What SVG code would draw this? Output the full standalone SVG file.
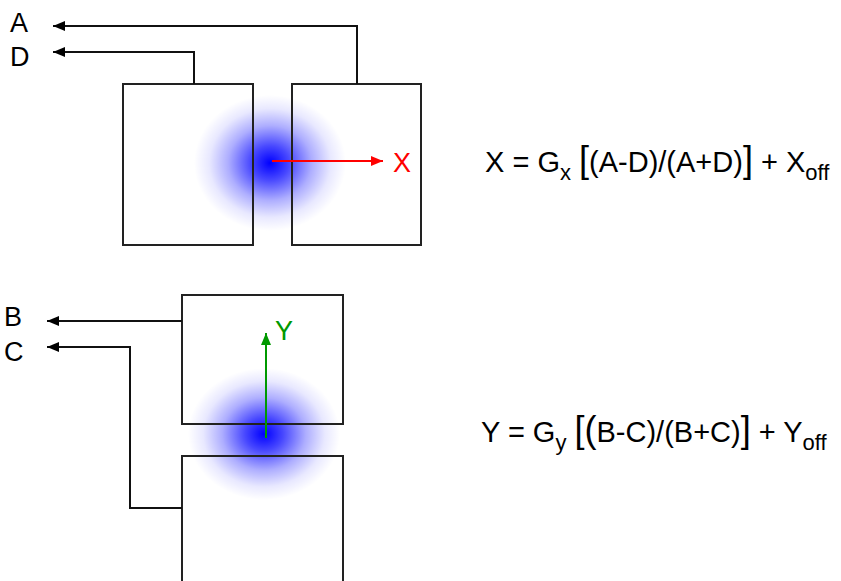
<svg xmlns="http://www.w3.org/2000/svg" width="841" height="581" viewBox="0 0 841 581">
<style>
  .box{fill:none;stroke:#222;stroke-width:2}
  .wire{fill:none;stroke:#111;stroke-width:2}
  .lbl{font-family:"Liberation Sans",Arial,sans-serif;font-size:27px;fill:#000}
  .eq{font-family:"Liberation Sans",Arial,sans-serif;font-size:29px;fill:#000}
  .sub{font-size:22px}
  .big{font-size:36px}
</style>
<defs>
  <radialGradient id="spot">
    <stop offset="0" stop-color="#0000ff" stop-opacity="1"/>
    <stop offset="0.25" stop-color="#0000ff" stop-opacity="0.72"/>
    <stop offset="0.55" stop-color="#0000ff" stop-opacity="0.32"/>
    <stop offset="0.8" stop-color="#0000ff" stop-opacity="0.09"/>
    <stop offset="1" stop-color="#0000ff" stop-opacity="0"/>
  </radialGradient>
  <marker id="ah" markerWidth="12" markerHeight="10" refX="12" refY="5" orient="auto" markerUnits="userSpaceOnUse">
    <path d="M0,0 L12,5 L0,10 Z" fill="#000"/>
  </marker>
  <marker id="ahr" markerWidth="12" markerHeight="10" refX="12" refY="5" orient="auto" markerUnits="userSpaceOnUse">
    <path d="M0,0 L12,5 L0,10 Z" fill="#ff0000"/>
  </marker>
  <marker id="ahg" markerWidth="12" markerHeight="10" refX="12" refY="5" orient="auto" markerUnits="userSpaceOnUse">
    <path d="M0,0 L12,5 L0,10 Z" fill="#009900"/>
  </marker>
</defs>

<g id="spot-x"><ellipse cx="270" cy="163" rx="76" ry="68" fill="url(#spot)"/></g>
<g id="spot-y"><ellipse cx="264" cy="434" rx="76" ry="66" fill="url(#spot)"/></g>

<g id="det-d"><rect class="box" x="123" y="84" width="130" height="161"/></g>
<g id="det-a"><rect class="box" x="292" y="84" width="129" height="161"/></g>
<g id="det-b"><rect class="box" x="182" y="295" width="161" height="129"/></g>
<g id="det-c"><rect class="box" x="182" y="456" width="161" height="140"/></g>

<g id="connectors">
  <polyline class="wire" points="357,84 357,26 53,26" marker-end="url(#ah)"/>
  <polyline class="wire" points="194,84 194,52 53,52" marker-end="url(#ah)"/>
  <polyline class="wire" points="182,321 47,321" marker-end="url(#ah)"/>
  <polyline class="wire" points="182,508 130,508 130,347 47,347" marker-end="url(#ah)"/>
  <line x1="272" y1="161" x2="383" y2="161" stroke="#ff0000" stroke-width="2" marker-end="url(#ahr)"/>
  <line x1="266" y1="438" x2="266" y2="333" stroke="#009900" stroke-width="2" marker-end="url(#ahg)"/>
</g>

<g id="labels">
  <text class="lbl" x="10" y="32">A</text>
  <text class="lbl" x="10" y="66">D</text>
  <text class="lbl" x="4" y="326">B</text>
  <text class="lbl" x="4" y="361">C</text>
  <text class="lbl" x="393" y="172" style="fill:#ff0000">X</text>
  <text class="lbl" x="275" y="340" style="fill:#009900">Y</text>
</g>

<g id="eq-x">
  <text class="eq" x="485" y="172">X = G<tspan class="sub" dy="8">x</tspan><tspan dy="-8"> </tspan><tspan class="big">[</tspan>(A-D)/(A+D)<tspan class="big">]</tspan> + X<tspan class="sub" dy="8">off</tspan></text>
</g>
<g id="eq-y">
  <text class="eq" x="481" y="442">Y = G<tspan class="sub" dy="8">y</tspan><tspan dy="-8"> </tspan><tspan class="big">[(</tspan>B-C)/(B+C)<tspan class="big">]</tspan> + Y<tspan class="sub" dy="8">off</tspan></text>
</g>
</svg>
